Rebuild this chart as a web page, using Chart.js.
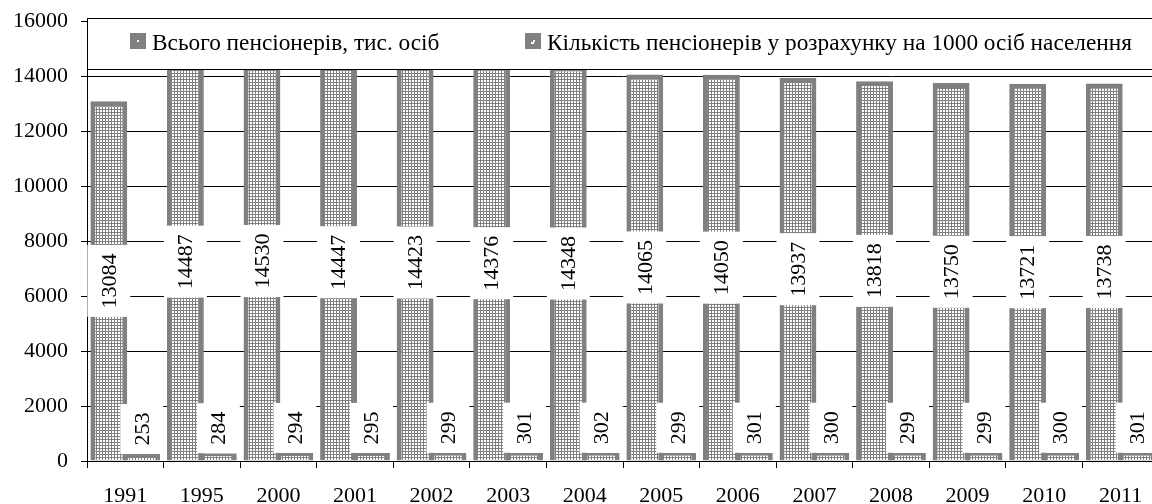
<!DOCTYPE html>
<html>
<head>
<meta charset="utf-8">
<script src="https://cdn.jsdelivr.net/npm/chart.js@4/dist/chart.umd.min.js"></script>
<style>
  html, body { margin: 0; padding: 0; background: #fff; overflow: hidden; }
  #wrap { width: 1162px; height: 509px; margin-top: -5px; }
</style>
</head>
<body>
<div id="wrap"><canvas id="grafico"></canvas></div>
<script>
const roky = ['1991', '1995', '2000', '2001', '2002', '2003', '2004', '2005', '2006', '2007', '2008', '2009', '2010', '2011'];
const vsogo = [13084, 14487, 14530, 14447, 14423, 14376, 14348, 14065, 14050, 13937, 13818, 13750, 13721, 13738];
const na1000 = [253, 284, 294, 295, 299, 301, 302, 299, 301, 300, 299, 299, 300, 301];
const nazvy = ['Всього пенсіонерів, тис. осіб', 'Кількість пенсіонерів у розрахунку на 1000 осіб населення'];
const yTicks = [0, 2000, 4000, 6000, 8000, 10000, 12000, 14000, 16000];

const SERIF = '"Liberation Serif", "Times New Roman", serif';
const SIRYI = '#808080';
const ZSUV = 5; // полотно зсунуте вгору на 5px

// візерунок з білих крапок на сірому
function vizerunok() {
    const c = document.createElement('canvas');
    c.width = 3; c.height = 3;
    const g = c.getContext('2d');
    g.fillStyle = SIRYI;
    g.fillRect(0, 0, 3, 3);
    g.fillStyle = '#ffffff';
    g.fillRect(1, 1, 2, 2);
    return g.createPattern(c, 'repeat');
}
const pattern = vizerunok();

function pidpys(ctx, x, cy, text, shyryna) {
    const w = ctx.measureText(text).width;
    const h = w + 17;
    ctx.save();
    ctx.translate(x, cy);
    ctx.rotate(-Math.PI / 2);
    ctx.fillStyle = '#fff';
    ctx.fillRect(-h / 2, -shyryna / 2, h, shyryna);
    ctx.fillStyle = '#000';
    ctx.textAlign = 'center';
    ctx.textBaseline = 'middle';
    ctx.fillText(text, 0, 1);
    ctx.restore();
    return h;
}

const pidpysyPlugin = {
    id: 'pidpysy',
    afterDatasetsDraw(chart) {
        const ctx = chart.ctx;
        const area = chart.chartArea;
        ctx.save();
        ctx.font = '22px ' + SERIF;
        chart.getDatasetMeta(0).data.forEach((bar, i) => {
            pidpys(ctx, bar.x, (bar.y + bar.base) / 2, String(vsogo[i]), 43);
        });
        chart.getDatasetMeta(1).data.forEach((bar, i) => {
            const t = String(na1000[i]);
            const h = ctx.measureText(t).width + 17;
            pidpys(ctx, bar.x, bar.y - h / 2, t, 43);
        });

        // легенда поверх верхньої частини стовпців
        const verh = 18 + ZSUV;
        const niz = 69 + ZSUV;
        ctx.fillStyle = '#fff';
        ctx.fillRect(area.left + 1, verh, area.right - area.left, niz - verh);
        ctx.strokeStyle = '#000';
        ctx.lineWidth = 1;
        ctx.beginPath();
        ctx.moveTo(area.left + 0.5, verh);
        ctx.lineTo(area.left + 0.5, niz);
        ctx.moveTo(area.left, verh + 0.5);
        ctx.lineTo(area.right, verh + 0.5);
        ctx.moveTo(area.left, niz + 0.5);
        ctx.lineTo(area.right, niz + 0.5);
        ctx.stroke();

        const elementy = [{ x: 130, znak: 'dot' }, { x: 525, znak: 'kut' }];
        ctx.font = '23.3px ' + SERIF;
        ctx.textBaseline = 'alphabetic';
        ctx.textAlign = 'left';
        elementy.forEach((el, k) => {
            ctx.fillStyle = SIRYI;
            ctx.fillRect(el.x, 33 + ZSUV, 16, 16);
            ctx.fillStyle = '#fff';
            if (el.znak === 'dot') {
                ctx.fillRect(el.x + 7, 40 + ZSUV, 2, 2);
            } else {
                ctx.fillRect(el.x + 6, 42 + ZSUV, 3, 2);
                ctx.fillRect(el.x + 8, 40 + ZSUV, 2, 2);
            }
            ctx.fillStyle = '#000';
            ctx.fillText(nazvy[k], el.x + 22, 50 + ZSUV);
        });
        ctx.restore();
    }
};

const ctx = document.getElementById('grafico').getContext('2d');
new Chart(ctx, {
    type: 'bar',
    data: {
        labels: roky,
        datasets: [
            {
                label: nazvy[0],
                data: vsogo,
                backgroundColor: pattern,
                borderColor: SIRYI,
                borderWidth: { left: 5, right: 5, top: 5, bottom: 0 },
                borderSkipped: false,
                categoryPercentage: 0.86,
                barPercentage: 1.12
            },
            {
                label: nazvy[1],
                data: na1000,
                backgroundColor: pattern,
                borderColor: SIRYI,
                borderWidth: { left: 5, right: 5, top: 3, bottom: 0 },
                borderSkipped: false,
                categoryPercentage: 0.86,
                barPercentage: 1.12
            }
        ]
    },
    options: {
        responsive: true,
        maintainAspectRatio: false,
        animation: false,
        layout: { padding: { top: 11, right: 3, left: 0, bottom: 0 } },
        plugins: {
            legend: { display: false },
            tooltip: { enabled: false }
        },
        scales: {
            x: {
                grid: { offset: true, drawOnChartArea: false, drawTicks: true, tickLength: 7, color: '#000' },
                border: { color: '#000' },
                ticks: { color: '#000', font: { family: SERIF, size: 22 }, padding: 15, maxRotation: 0, autoSkip: false },
                afterFit(scale) { scale.height = 43; }
            },
            y: {
                min: 0,
                max: 16000,
                afterBuildTicks(scale) { scale.ticks = yTicks.map(v => ({ value: v })); },
                grid: { color: '#000', tickLength: 6 },
                border: { color: '#000' },
                ticks: {
                    color: '#000',
                    font: { family: SERIF, size: 22 },
                    padding: 13,
                    callback: v => String(v)
                },
                afterFit(scale) { scale.width = 87; }
            }
        }
    },
    plugins: [pidpysyPlugin]
});
</script>
</body>
</html>
